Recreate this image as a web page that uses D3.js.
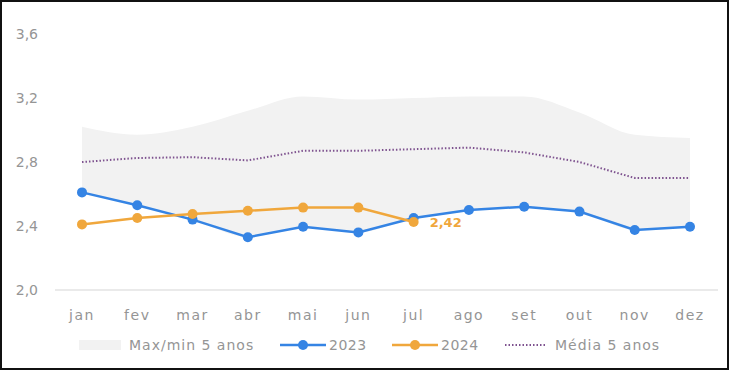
<!DOCTYPE html>
<html>
<head>
<meta charset="utf-8">
<script src="https://cdn.jsdelivr.net/npm/d3@7"></script>
<style>
  body { margin: 0; background: #fff; }
  text { font-family: "DejaVu Sans", sans-serif; }
</style>
</head>
<body>
<div id="graf"></div>
<script>
// dados
const meses = ["jan","fev","mar","abr","mai","jun","jul","ago","set","out","nov","dez"]
const serie2023 = [2.61, 2.53, 2.44, 2.33, 2.395, 2.36, 2.45, 2.50, 2.52, 2.49, 2.375, 2.395]
const serie2024 = [2.41, 2.45, 2.475, 2.495, 2.515, 2.515, 2.425]
const media5 = [2.80, 2.825, 2.83, 2.81, 2.87, 2.87, 2.88, 2.89, 2.86, 2.80, 2.70, 2.70]
const max5 = [3.02, 2.97, 3.02, 3.12, 3.21, 3.19, 3.20, 3.21, 3.21, 3.11, 2.97, 2.95]
const min5 = serie2023
const yTicks = [2.0, 2.4, 2.8, 3.2, 3.6]

const anchoTotal = 730, altoTotal = 371
const cinza = "#959595"

const svg = d3.select("#graf").append("svg")
  .attr("width", anchoTotal)
  .attr("height", altoTotal)

// moldura
svg.append("rect")
  .attr("x", 1).attr("y", 1)
  .attr("width", 727).attr("height", 368)
  .attr("fill", "none").attr("stroke", "#111").attr("stroke-width", 2)

// escaladores
const x = d3.scalePoint().domain(meses).range([82, 690])
const y = d3.scaleLinear().domain([2.0, 3.6]).range([290, 34])

const cores = { c2023: "#3584e4", c2024: "#f0a73c", media: "#7e528f", banda: "#f2f2f2" }

// banda max/min
const area = d3.area()
  .x((d, i) => x(meses[i]))
  .y0((d, i) => y(min5[i]))
  .y1(d => y(d))
  .curve(d3.curveMonotoneX)
svg.append("path").datum(max5).attr("d", area).attr("fill", cores.banda)

// linha base
svg.append("line")
  .attr("x1", 55).attr("x2", 718)
  .attr("y1", y(2.0)).attr("y2", y(2.0))
  .attr("stroke", "#e3e3e3").attr("stroke-width", 1.5)

// eixo Y
const fmt = d3.format(".1f")
svg.append("g").selectAll("text").data(yTicks).join("text")
  .attr("x", 38).attr("y", d => y(d))
  .attr("dy", "0.35em").attr("text-anchor", "end")
  .attr("font-size", 14).attr("fill", cinza)
  .text(d => fmt(d).replace(".", ","))

// eixo X
svg.append("g").selectAll("text").data(meses).join("text")
  .attr("x", d => x(d)).attr("y", 315)
  .attr("dy", "0.35em").attr("text-anchor", "middle")
  .attr("font-size", 14).attr("letter-spacing", 1.5).attr("fill", cinza)
  .text(d => d)

// media
const linha = d3.line().x((d, i) => x(meses[i])).y(d => y(d))
svg.append("path").datum(media5).attr("d", linha)
  .attr("fill", "none").attr("stroke", cores.media)
  .attr("stroke-width", 2).attr("stroke-dasharray", "1.5,2")

// series
const series = [[serie2023, cores.c2023], [serie2024, cores.c2024]]
series.forEach(([s, c]) => {
  svg.append("path").datum(s).attr("d", linha)
    .attr("fill", "none").attr("stroke", c).attr("stroke-width", 2.5)
  svg.append("g").selectAll("circle").data(s).join("circle")
    .attr("cx", (d, i) => x(meses[i])).attr("cy", d => y(d))
    .attr("r", 5).attr("fill", c)
})

// rotulo ultimo valor
const ult = serie2024.length - 1
svg.append("text")
  .attr("x", x(meses[ult]) + 16).attr("y", y(serie2024[ult]))
  .attr("dy", "0.35em").attr("font-size", 13).attr("font-weight", "bold")
  .attr("fill", cores.c2024)
  .text(serie2024[ult].toFixed(2).replace(".", ","))

// legenda
const leg = svg.append("g").attr("transform", "translate(0,345)")
leg.append("rect").attr("x", 79).attr("y", -5).attr("width", 42).attr("height", 10).attr("fill", cores.banda)
leg.append("text").attr("x", 129).attr("dy", "0.35em").attr("font-size", 14).attr("letter-spacing", 1).attr("fill", cinza).text("Max/min 5 anos")

const legItens = [[280, cores.c2023, "2023"], [392, cores.c2024, "2024"]]
legItens.forEach(([lx, c, t]) => {
  leg.append("line").attr("x1", lx).attr("x2", lx + 46).attr("stroke", c).attr("stroke-width", 2.5)
  leg.append("circle").attr("cx", lx + 23).attr("r", 5).attr("fill", c)
  leg.append("text").attr("x", lx + 49).attr("dy", "0.35em").attr("font-size", 14).attr("letter-spacing", 0.5).attr("fill", cinza).text(t)
})
leg.append("line").attr("x1", 505).attr("x2", 547)
  .attr("stroke", cores.media).attr("stroke-width", 2).attr("stroke-dasharray", "1.5,2")
leg.append("text").attr("x", 555).attr("dy", "0.35em").attr("font-size", 14).attr("letter-spacing", 1).attr("fill", cinza).text("Média 5 anos")
</script>
</body>
</html>
